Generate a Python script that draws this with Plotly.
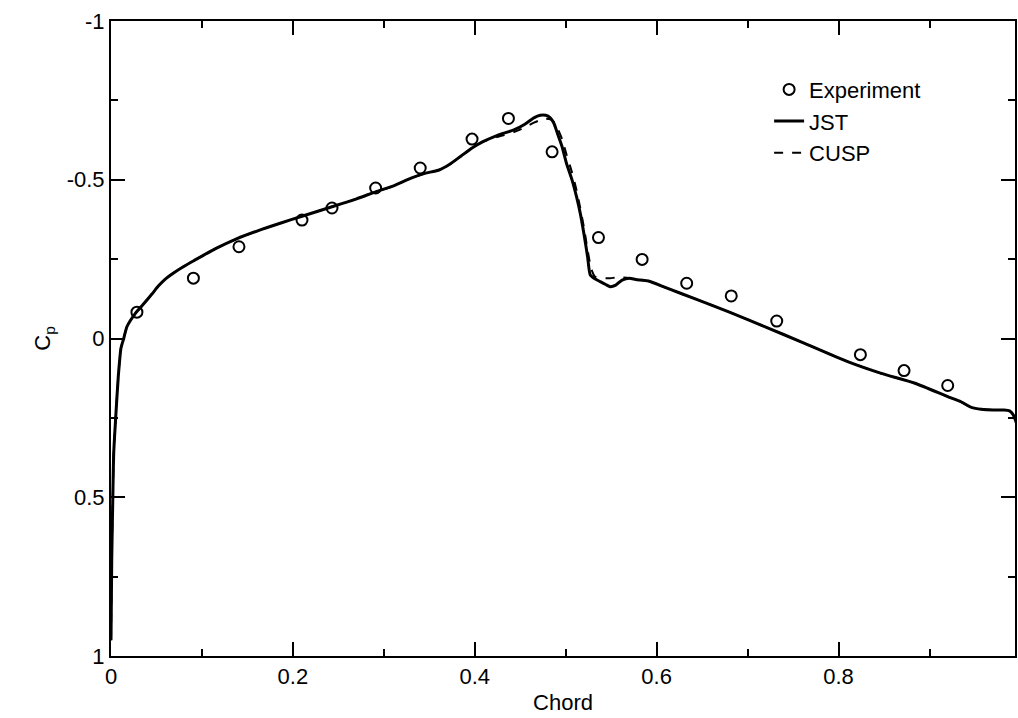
import plotly.graph_objects as go

# Experimental data
exp_x = [0.0285, 0.0906, 0.1407, 0.210, 0.243, 0.291, 0.340, 0.397, 0.437, 0.485,
         0.536, 0.584, 0.633, 0.682, 0.732, 0.824, 0.872, 0.920]
exp_cp = [-0.083, -0.19, -0.289, -0.373, -0.411, -0.474, -0.537, -0.628, -0.693, -0.588,
          -0.318, -0.249, -0.174, -0.134, -0.055, 0.051, 0.101, 0.148]

# JST computation
jst_x = [0.0, 0.0008, 0.002, 0.003, 0.005, 0.008, 0.011, 0.014, 0.0175, 0.027, 0.035, 0.045,
         0.052, 0.06, 0.07, 0.08, 0.091, 0.115, 0.138, 0.162, 0.186, 0.21, 0.243, 0.27,
         0.291, 0.31, 0.33, 0.345, 0.36, 0.372, 0.385, 0.397, 0.409, 0.425, 0.443, 0.455,
         0.465, 0.472, 0.478, 0.483, 0.487, 0.491, 0.496, 0.501, 0.507, 0.512, 0.516, 0.52,
         0.524, 0.527, 0.532, 0.538, 0.544, 0.549, 0.555, 0.562, 0.57, 0.577, 0.591, 0.61,
         0.646, 0.68, 0.72, 0.76, 0.81, 0.847, 0.884, 0.92, 0.935, 0.946, 0.957, 0.97,
         0.982, 0.988, 0.992, 0.996]
jst_cp = [0.95, 0.7, 0.5, 0.36, 0.257, 0.12, 0.03, 0.0, -0.037, -0.08, -0.106, -0.14,
          -0.165, -0.188, -0.209, -0.227, -0.245, -0.283, -0.314, -0.34, -0.363, -0.385,
          -0.415, -0.44, -0.462, -0.48, -0.505, -0.52, -0.53, -0.548, -0.575, -0.6, -0.62,
          -0.64, -0.657, -0.675, -0.695, -0.703, -0.703, -0.695, -0.678, -0.645, -0.604,
          -0.55, -0.499, -0.445, -0.394, -0.33, -0.258, -0.2, -0.188, -0.179, -0.17, -0.163,
          -0.168, -0.184, -0.19, -0.186, -0.181, -0.16, -0.121, -0.083, -0.036, 0.012, 0.073,
          0.110, 0.141, 0.183, 0.2, 0.217, 0.223, 0.225, 0.225, 0.228, 0.24, 0.27]

# CUSP computation
cusp_x = [0.0, 0.0008, 0.002, 0.003, 0.005, 0.008, 0.011, 0.014, 0.0175, 0.027, 0.035, 0.045,
          0.052, 0.06, 0.07, 0.08, 0.091, 0.115, 0.138, 0.162, 0.186, 0.21, 0.243, 0.27,
          0.291, 0.31, 0.33, 0.345, 0.36, 0.372, 0.385, 0.397, 0.409, 0.425, 0.443, 0.455,
          0.465, 0.472, 0.478, 0.483, 0.487, 0.491, 0.496, 0.501, 0.507, 0.512, 0.516, 0.52,
          0.524, 0.528, 0.532, 0.538, 0.544, 0.549, 0.555, 0.562, 0.57, 0.577, 0.591, 0.61,
          0.646, 0.68, 0.72, 0.76, 0.81, 0.847, 0.884, 0.92, 0.935, 0.946, 0.957, 0.97,
          0.982, 0.988, 0.992, 0.996]
cusp_cp = [0.95, 0.7, 0.5, 0.36, 0.257, 0.12, 0.03, 0.0, -0.037, -0.08, -0.106, -0.14,
           -0.165, -0.188, -0.209, -0.227, -0.245, -0.283, -0.314, -0.34, -0.363, -0.385,
           -0.415, -0.44, -0.462, -0.48, -0.505, -0.52, -0.53, -0.548, -0.575, -0.6, -0.62,
           -0.635, -0.65, -0.665, -0.68, -0.688, -0.692, -0.69, -0.682, -0.662, -0.628,
           -0.578, -0.522, -0.466, -0.41, -0.35, -0.28, -0.22, -0.195, -0.19, -0.19, -0.19,
           -0.192, -0.192, -0.19, -0.186, -0.181, -0.16, -0.121, -0.083, -0.036, 0.012, 0.073,
           0.110, 0.141, 0.183, 0.2, 0.217, 0.223, 0.225, 0.225, 0.228, 0.24, 0.27]

x_tick_vals = [0, 0.2, 0.4, 0.6, 0.8]
x_tick_text = ["0", "0.2", "0.4", "0.6", "0.8"]
y_tick_vals = [-1, -0.5, 0, 0.5, 1]
y_tick_text = ["-1", "-0.5", "0", "0.5", "1"]

FONT = "Liberation Sans, Arial, Helvetica, sans-serif"

fig = go.Figure()
fig.add_trace(go.Scatter(
    x=exp_x, y=exp_cp, mode="markers", name="Experiment",
    marker=dict(symbol="circle-open", size=11, color="black", line=dict(width=2)),
))
fig.add_trace(go.Scatter(
    x=jst_x, y=jst_cp, mode="lines", name="JST",
    line=dict(color="black", width=3, shape="spline", smoothing=0.6),
))
fig.add_trace(go.Scatter(
    x=cusp_x, y=cusp_cp, mode="lines", name="CUSP",
    line=dict(color="black", width=2, dash="dash", shape="spline", smoothing=0.6),
))

axis_common = dict(
    showgrid=False, zeroline=False, showline=True, linecolor="black", linewidth=2,
    mirror="allticks", ticks="inside", ticklen=14, tickwidth=2, tickcolor="black",
    tickfont=dict(family=FONT, size=22, color="black"),
)

fig.update_xaxes(
    range=[0, 0.994], tickmode="array", tickvals=x_tick_vals, ticktext=x_tick_text,
    minor=dict(dtick=0.1, ticks="inside", ticklen=7, tickwidth=2, tickcolor="black"),
    title=dict(text="Chord", font=dict(family=FONT, size=22, color="black"), standoff=6),
    **axis_common,
)
fig.update_yaxes(
    range=[1, -1], tickmode="array", tickvals=y_tick_vals, ticktext=y_tick_text,
    minor=dict(dtick=0.25, ticks="inside", ticklen=7, tickwidth=2, tickcolor="black"),
    title=dict(text="C<sub>p</sub>", font=dict(family=FONT, size=22, color="black"), standoff=10),
    **axis_common,
)

fig.update_layout(
    width=1018, height=718,
    margin=dict(l=111, r=1, t=21, b=62),
    paper_bgcolor="white", plot_bgcolor="white",
    font=dict(family=FONT, size=22, color="black"),
    showlegend=True,
    legend=dict(
        x=0.728, y=0.925, xanchor="left", yanchor="top",
        bgcolor="rgba(0,0,0,0)", borderwidth=0,
        font=dict(family=FONT, size=22, color="black"),
        tracegroupgap=0, itemwidth=30,
    ),
)

fig.write_html("out.html")
